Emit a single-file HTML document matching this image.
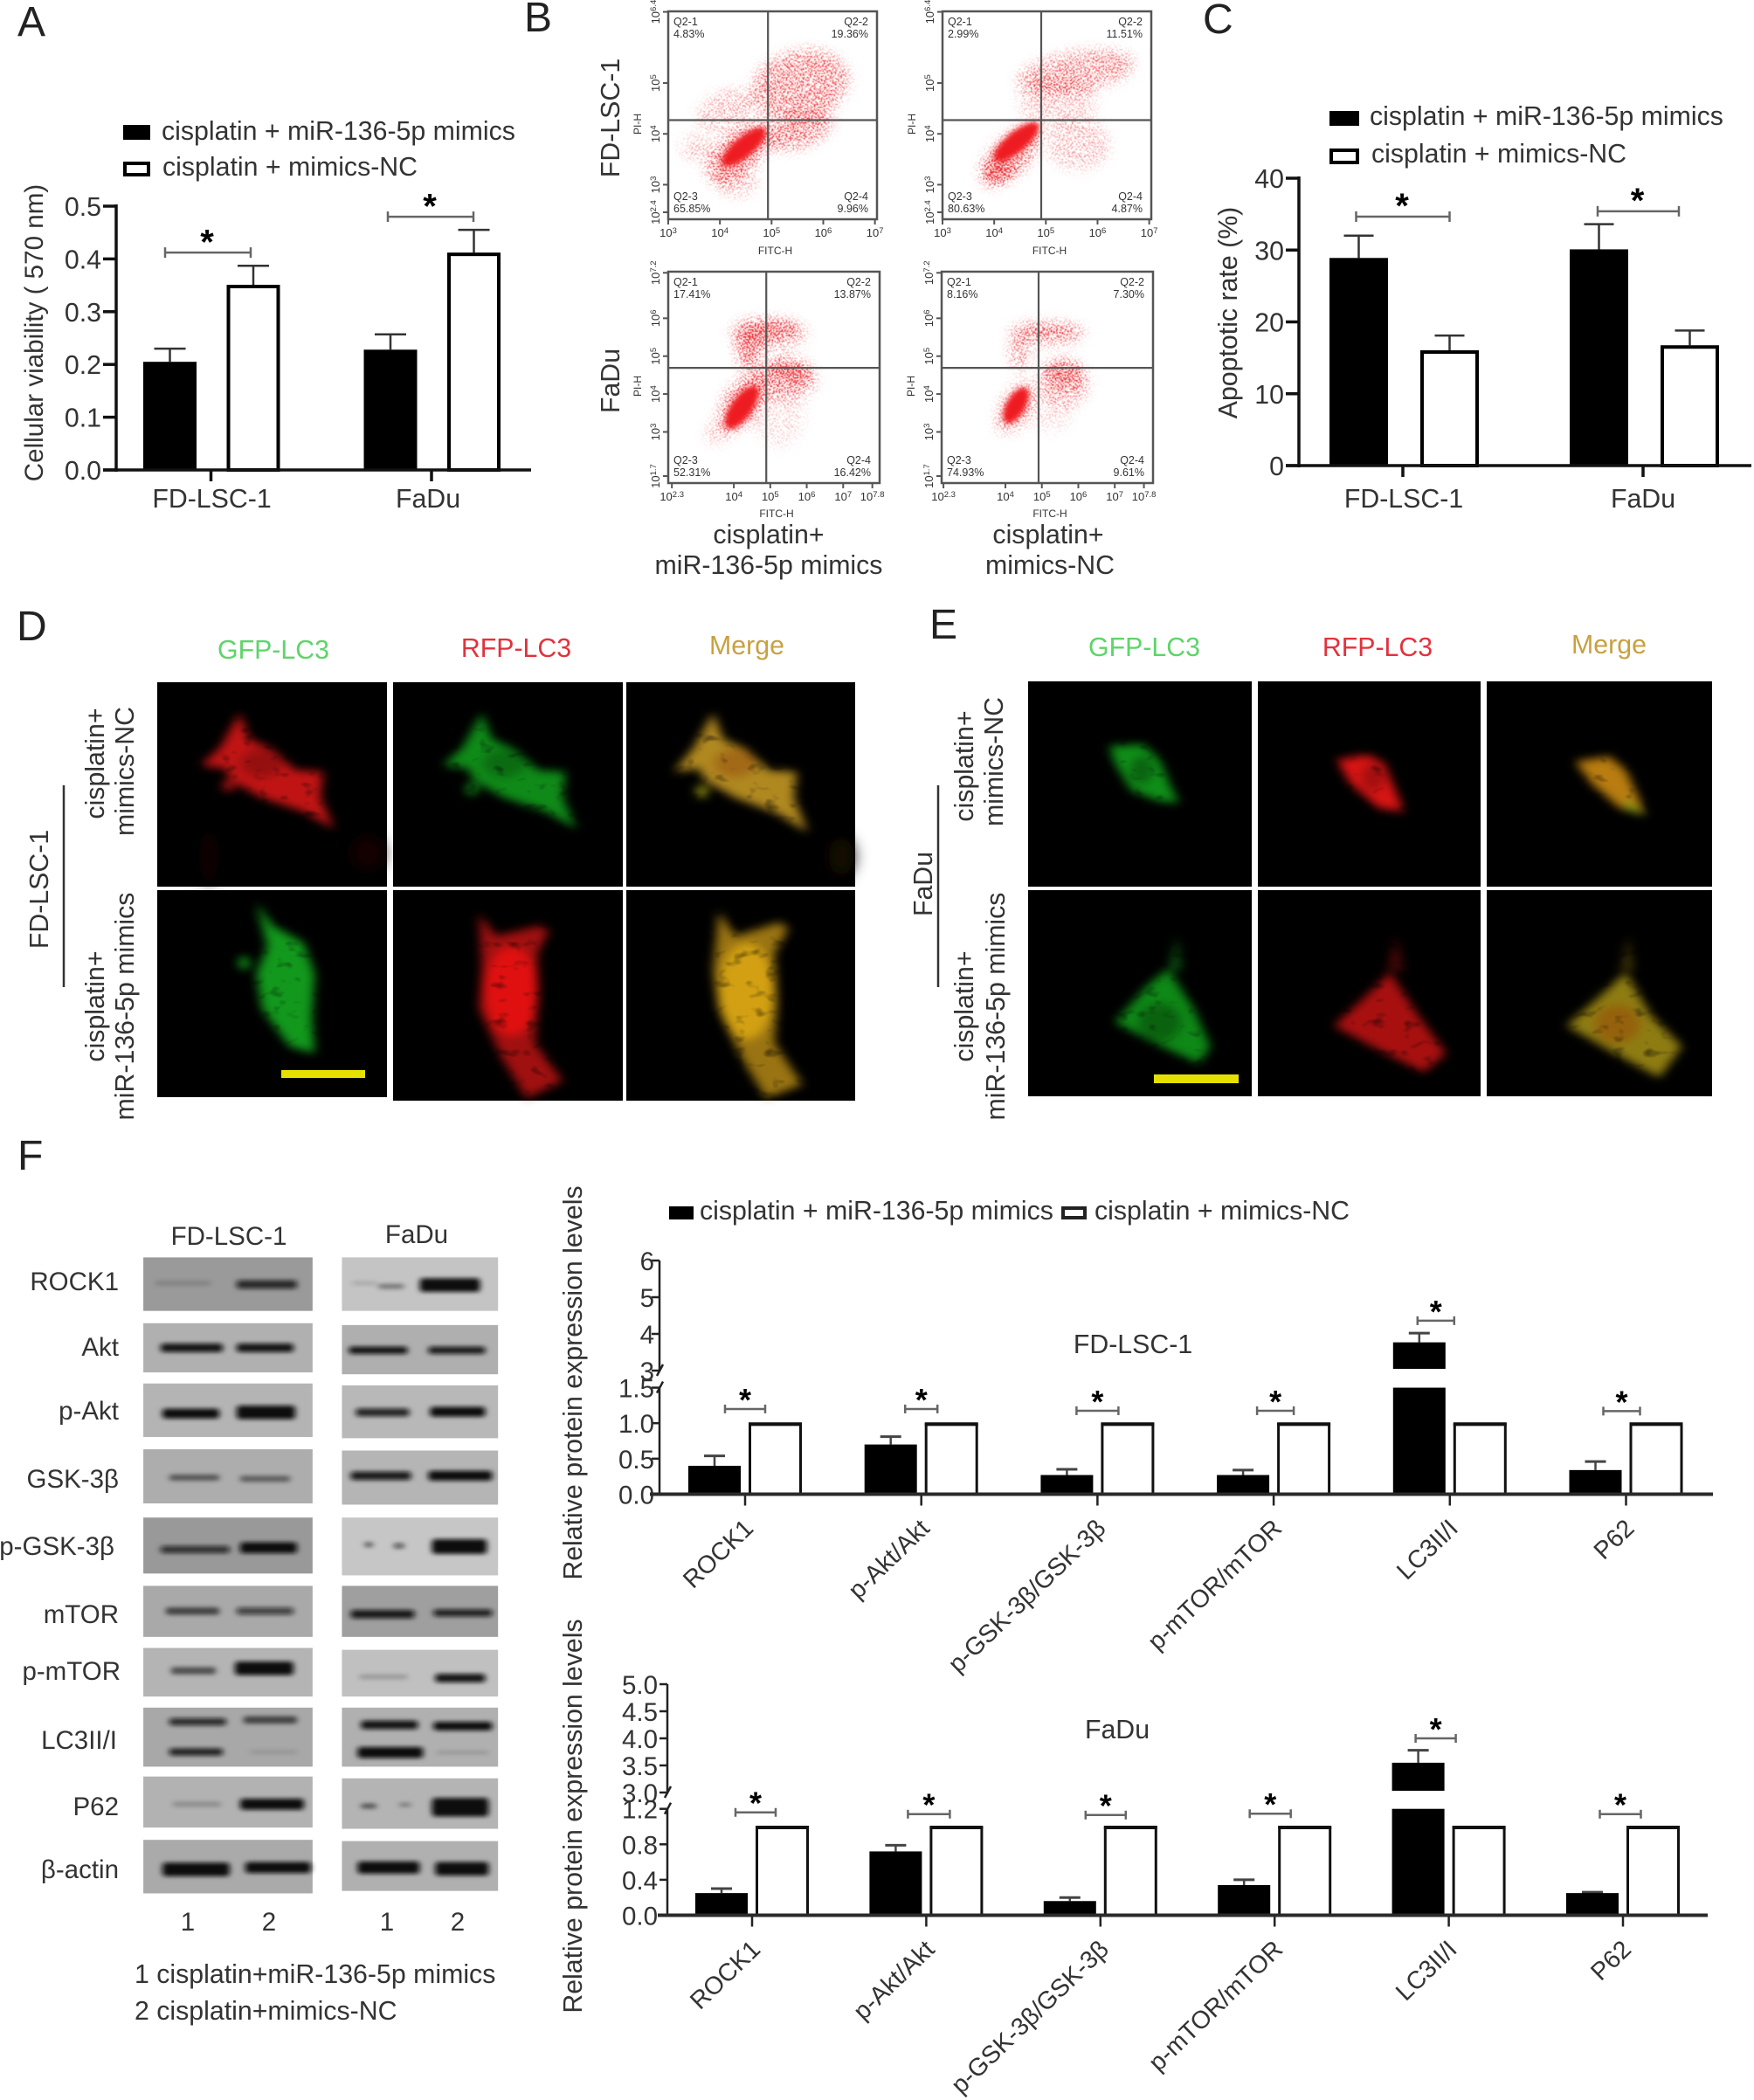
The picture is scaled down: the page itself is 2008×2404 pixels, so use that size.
<!DOCTYPE html>
<html lang="en">
<head>
<meta charset="utf-8">
<title>miR-136-5p cisplatin figure</title>
<style>
html,body{margin:0;padding:0;background:#fff;}
svg{display:block;}
text{font-family:"Liberation Sans",sans-serif;fill:#333;}
.t30{font-size:30.3px;}
.t29{font-size:29.5px;}
.letter{font-size:48px;fill:#222;}
</style>
</head>
<body>
<svg id="figure" xmlns="http://www.w3.org/2000/svg" width="2008" height="2404" viewBox="0 0 2008 2404">
<defs>
<filter id="cellBlur" x="-30%" y="-30%" width="160%" height="160%" color-interpolation-filters="sRGB">
<feGaussianBlur in="SourceGraphic" stdDeviation="9 13" result="soft"/>
<feTurbulence type="fractalNoise" baseFrequency="0.035" numOctaves="2" seed="11" result="noise"/>
<feColorMatrix in="noise" type="matrix" values="0 0 0 0 0  0 0 0 0 0  0 0 0 0 0  1.4 0 0 0 0.42" result="mottle"/>
<feComposite in="soft" in2="mottle" operator="in"/>
</filter>
<filter id="faintBlur" x="-40%" y="-40%" width="180%" height="180%"><feGaussianBlur stdDeviation="14 20"/></filter>
<filter id="bandBlur" x="-20%" y="-20%" width="140%" height="140%"><feGaussianBlur stdDeviation="9 3.5"/></filter>
<filter id="coreBlur" x="-30%" y="-30%" width="160%" height="160%"><feGaussianBlur stdDeviation="3"/></filter>
<filter id="speckle" x="-10%" y="-10%" width="120%" height="120%" color-interpolation-filters="sRGB">
<feGaussianBlur in="SourceAlpha" stdDeviation="7" result="density"/>
<feTurbulence type="fractalNoise" baseFrequency="0.62" numOctaves="1" seed="7" result="noise"/>
<feColorMatrix in="noise" type="matrix" values="0 0 0 0 0  0 0 0 0 0  0 0 0 0 0  5 0 0 0 -2" result="noiseAlpha"/>
<feComposite in="density" in2="noiseAlpha" operator="arithmetic" k1="0" k2="1" k3="1" k4="-1" result="sum"/>
<feComponentTransfer in="sum" result="mask"><feFuncA type="linear" slope="2.2" intercept="0"/></feComponentTransfer>
<feFlood flood-color="#ea1a20" result="red"/>
<feComposite in="red" in2="mask" operator="in"/>
<feGaussianBlur stdDeviation="0.5"/>
</filter>
</defs>

<!-- Panel letters -->
<text class="letter" x="20" y="41">A</text>
<text class="letter" x="600" y="36">B</text>
<text class="letter" x="1377" y="38">C</text>
<text class="letter" x="19" y="733">D</text>
<text class="letter" x="1064" y="731">E</text>
<text class="letter" x="20" y="1339">F</text>

<!-- Panel A -->
<g id="panelA">
<rect x="141" y="143" width="31" height="17" fill="#000"/>
<text class="t30" x="185" y="160">cisplatin + miR-136-5p mimics</text>
<rect x="143" y="187" width="27" height="13" fill="#fff" stroke="#000" stroke-width="4"/>
<text class="t30" x="186" y="201">cisplatin + mimics-NC</text>
<text transform="rotate(-90 49 381)" x="49" y="381" text-anchor="middle" font-size="29.6">Cellular viability ( 570 nm)</text>
</g>

<!-- Panel C -->
<g id="panelC">
<rect x="1522" y="127" width="34" height="17" fill="#000"/>
<text class="t30" x="1568" y="143">cisplatin + miR-136-5p mimics</text>
<rect x="1524" y="172" width="30" height="14" fill="#fff" stroke="#000" stroke-width="4"/>
<text class="t30" x="1570" y="186">cisplatin + mimics-NC</text>
<text class="t30" transform="rotate(-90 1416 358)" x="1416" y="358" text-anchor="middle">Apoptotic rate (%)</text>
</g>

<!-- Panel B -->
<g id="panelB">
<text class="t30" transform="rotate(-90 709 135)" x="709" y="135" text-anchor="middle">FD-LSC-1</text>
<text class="t30" transform="rotate(-90 709 436)" x="709" y="436" text-anchor="middle">FaDu</text>
<text class="t30" x="880" y="622" text-anchor="middle">cisplatin+</text>
<text class="t30" x="880" y="657" text-anchor="middle">miR-136-5p mimics</text>
<text class="t30" x="1200" y="622" text-anchor="middle">cisplatin+</text>
<text class="t30" x="1202" y="657" text-anchor="middle">mimics-NC</text>
</g>

<!-- Panel D -->
<g id="panelD">
<text class="t30" x="313" y="754" text-anchor="middle" style="fill:#5fd46a">GFP-LC3</text>
<text class="t30" x="591" y="752" text-anchor="middle" style="fill:#e2323c">RFP-LC3</text>
<text class="t30" x="855" y="749" text-anchor="middle" style="fill:#c9a040">Merge</text>
<rect x="180" y="781" width="263" height="234" fill="#000"/>
<rect x="450" y="781" width="263" height="234" fill="#000"/>
<rect x="717" y="781" width="262" height="234" fill="#000"/>
<rect x="180" y="1019" width="263" height="237" fill="#000"/>
<rect x="450" y="1019" width="263" height="241" fill="#000"/>
<rect x="717" y="1019" width="262" height="241" fill="#000"/>
<g transform="matrix(0.6378 0 0 0.3954 0 680)">
<g filter="url(#faintBlur)">
<ellipse cx="660" cy="750" rx="28" ry="50" fill="#140202"/>
<ellipse cx="375" cy="760" rx="18" ry="80" fill="#0e0202"/>
<ellipse cx="1510" cy="760" rx="22" ry="55" fill="#161002"/>
</g>
<g filter="url(#cellBlur)">
<polygon points="430,345 448,420 490,450 530,510 580,515 575,590 600,680 545,630 470,590 415,540 405,505 360,497 395,445" fill="#c01414"/>
<ellipse cx="470" cy="490" rx="38" ry="40" fill="#000" opacity="0.22"/>
<ellipse cx="410" cy="555" rx="11" ry="16" fill="#b01212"/>
<polygon points="865,345 883,420 925,450 965,510 1015,515 1010,590 1035,680 980,630 905,590 850,540 840,505 795,497 830,445" fill="#0f8a18"/>
<ellipse cx="905" cy="490" rx="38" ry="40" fill="#000" opacity="0.22"/>
<ellipse cx="847" cy="565" rx="11" ry="16" fill="#128e18"/>
<polygon points="1280,345 1298,420 1340,450 1380,510 1430,515 1425,590 1450,690 1395,635 1320,590 1265,540 1255,505 1210,515 1245,445" fill="#b08820"/>
<ellipse cx="1320" cy="490" rx="38" ry="40" fill="#802000" opacity="0.3"/>
<ellipse cx="1260" cy="572" rx="11" ry="16" fill="#9a9a14"/>
<polygon points="460,895 490,960 545,1010 565,1100 560,1230 565,1330 520,1310 470,1200 460,1100 480,1020" fill="#12981c"/>
<ellipse cx="438" cy="1068" rx="10" ry="18" fill="#12981c"/>
<polygon points="860,925 890,990 970,960 985,975 965,1040 965,1180 960,1300 1010,1410 945,1460 900,1340 860,1200 865,1080" fill="#a01010"/>
<ellipse cx="918" cy="1150" rx="48" ry="130" fill="#e01010"/>
<polygon points="1290,920 1320,990 1400,950 1415,970 1390,1040 1395,1190 1390,1300 1440,1420 1375,1460 1330,1340 1290,1200 1280,1090" fill="#9a7412"/>
<ellipse cx="1340" cy="1150" rx="50" ry="140" fill="#d2a012"/>
</g>
</g>
<rect x="322" y="1225" width="96" height="9" fill="#e6e000"/>
<line x1="73" y1="899" x2="73" y2="1130" stroke="#333" stroke-width="2.5"/>
<text class="t30" transform="rotate(-90 55 1018)" x="55" y="1018" text-anchor="middle">FD-LSC-1</text>
<text class="t30" transform="rotate(-90 119 874)" x="119" y="874" text-anchor="middle">cisplatin+</text>
<text class="t30" transform="rotate(-90 153 883)" x="153" y="883" text-anchor="middle">mimics-NC</text>
<text class="t30" transform="rotate(-90 119 1152)" x="119" y="1152" text-anchor="middle">cisplatin+</text>
<text class="t30" transform="rotate(-90 153 1152)" x="153" y="1152" text-anchor="middle">miR-136-5p mimics</text>
</g>

<!-- Panel E -->
<g id="panelE">
<text class="t30" x="1310" y="751" text-anchor="middle" style="fill:#5fd46a">GFP-LC3</text>
<text class="t30" x="1577" y="751" text-anchor="middle" style="fill:#e2323c">RFP-LC3</text>
<text class="t30" x="1842" y="748" text-anchor="middle" style="fill:#c9a040">Merge</text>
<rect x="1177" y="780" width="256" height="235" fill="#000"/>
<rect x="1440" y="780" width="255" height="235" fill="#000"/>
<rect x="1702" y="780" width="258" height="235" fill="#000"/>
<rect x="1177" y="1019" width="256" height="236" fill="#000"/>
<rect x="1440" y="1019" width="255" height="236" fill="#000"/>
<rect x="1702" y="1019" width="258" height="236" fill="#000"/>
<g transform="matrix(0.6427 0 0 0.3954 1000 680)">
<g filter="url(#cellBlur)">
<polygon points="420,440 480,435 510,480 530,560 545,605 510,600 460,570 430,490" fill="#0f8e18"/>
<ellipse cx="478" cy="510" rx="20" ry="40" fill="#000" opacity="0.3"/>
<polygon points="825,480 880,465 910,490 930,570 945,630 900,620 850,550" fill="#d81414"/>
<ellipse cx="890" cy="530" rx="20" ry="40" fill="#000" opacity="0.25"/>
<polygon points="1250,485 1310,470 1340,510 1360,580 1375,640 1330,620 1280,550" fill="#b87c10"/>
<polygon points="1340,590 1375,640 1340,625" fill="#7c9a14"/>
<polygon points="540,990 525,1090 550,1090" fill="#0a4a10"/>
<polygon points="525,1085 570,1200 600,1310 580,1360 500,1300 430,1240 490,1130" fill="#0e8816"/>
<ellipse cx="510" cy="1240" rx="38" ry="55" fill="#000" opacity="0.28"/>
<polygon points="930,990 915,1090 945,1090" fill="#4a0808"/>
<polygon points="920,1095 970,1220 1020,1330 980,1385 900,1320 820,1250 880,1160" fill="#a81010"/>
<polygon points="1345,990 1330,1090 1355,1090" fill="#3a3006"/>
<polygon points="1340,1095 1385,1220 1440,1310 1400,1400 1320,1330 1235,1250 1290,1170" fill="#8e7c12"/>
<ellipse cx="1325" cy="1245" rx="40" ry="55" fill="#9a4a08" opacity="0.55"/>
</g>
</g>
<rect x="1321" y="1230" width="97" height="10" fill="#e6e000"/>
<line x1="1074" y1="899" x2="1074" y2="1130" stroke="#333" stroke-width="2.5"/>
<text class="t30" transform="rotate(-90 1067 1012)" x="1067" y="1012" text-anchor="middle">FaDu</text>
<text class="t30" transform="rotate(-90 1114 877)" x="1114" y="877" text-anchor="middle">cisplatin+</text>
<text class="t30" transform="rotate(-90 1148 872)" x="1148" y="872" text-anchor="middle">mimics-NC</text>
<text class="t30" transform="rotate(-90 1114 1152)" x="1114" y="1152" text-anchor="middle">cisplatin+</text>
<text class="t30" transform="rotate(-90 1150 1152)" x="1150" y="1152" text-anchor="middle">miR-136-5p mimics</text>
</g>

<!-- Panel F blots -->
<g id="panelFBlots">
<text class="t29" x="262" y="1425" text-anchor="middle">FD-LSC-1</text>
<text class="t29" x="477" y="1423" text-anchor="middle">FaDu</text>
<text class="t29" x="136" y="1477" text-anchor="end">ROCK1</text>
<text class="t29" x="136" y="1552" text-anchor="end">Akt</text>
<text class="t29" x="136" y="1625" text-anchor="end">p-Akt</text>
<text class="t29" x="136" y="1703" text-anchor="end">GSK-3β</text>
<text class="t29" x="131" y="1780" text-anchor="end">p-GSK-3β</text>
<text class="t29" x="136" y="1858" text-anchor="end">mTOR</text>
<text class="t29" x="138" y="1923" text-anchor="end">p-mTOR</text>
<text class="t29" x="134" y="2002" text-anchor="end">LC3II/I</text>
<text class="t29" x="136" y="2078" text-anchor="end">P62</text>
<text class="t29" x="136" y="2150" text-anchor="end">β-actin</text>
<text class="t29" x="215" y="2210" text-anchor="middle">1</text>
<text class="t29" x="308" y="2210" text-anchor="middle">2</text>
<text class="t29" x="443" y="2210" text-anchor="middle">1</text>
<text class="t29" x="524" y="2210" text-anchor="middle">2</text>
<text class="t30" x="154" y="2270">1 cisplatin+miR-136-5p mimics</text>
<text class="t30" x="154" y="2312">2 cisplatin+mimics-NC</text>
</g>

<!-- Panel F charts -->
<g id="panelFCharts">
<rect x="766" y="1381" width="28" height="15" fill="#000"/>
<text class="t30" x="801" y="1396">cisplatin + miR-136-5p mimics</text>
<rect x="1217" y="1383" width="25" height="11" fill="#fff" stroke="#222" stroke-width="4"/>
<text class="t30" x="1253" y="1396">cisplatin + mimics-NC</text>
<text class="t30" x="1297" y="1549" text-anchor="middle">FD-LSC-1</text>
<text class="t30" x="1279" y="1990" text-anchor="middle">FaDu</text>
<text class="t30" transform="rotate(-90 666 1583)" x="666" y="1583" text-anchor="middle">Relative protein expression levels</text>
<text class="t30" transform="rotate(-90 666 2079)" x="666" y="2079" text-anchor="middle">Relative protein expression levels</text>
</g>
</svg>

<script>
// ---------- Panel A data ----------
const viabilityCategories = ['FD-LSC-1', 'FaDu'];
const viabilityMimics = [0.205, 0.228];
const viabilityMimicsErr = [0.025, 0.029];
const viabilityNC = [0.351, 0.412];
const viabilityNCErr = [0.036, 0.043];
const viabilityTicks = [0, 0.1, 0.2, 0.3, 0.4, 0.5];
const viabilityBracket = [0.412, 0.48];

// ---------- Panel C data ----------
const apoptosisCategories = ['FD-LSC-1', 'FaDu'];
const apoptosisMimics = [28.9, 30.1];
const apoptosisMimicsErr = [3.1, 3.5];
const apoptosisNC = [16.05, 16.75];
const apoptosisNCErr = [2.05, 2.05];
const apoptosisTicks = [0, 10, 20, 30, 40];
const apoptosisBracket = [34.65, 35.4];

// ---------- Panel F data ----------
const proteinCategories = ['ROCK1', 'p-Akt/Akt', 'p-GSK-3β/GSK-3β', 'p-mTOR/mTOR', 'LC3II/I', 'P62'];
const fdMimics = [0.40, 0.70, 0.27, 0.27, 3.77, 0.34];
const fdMimicsErr = [0.14, 0.11, 0.08, 0.07, 0.25, 0.12];
const fdNC = [1, 1, 1, 1, 1, 1];
const fdTicksLow = [0, 0.5, 1, 1.5];
const fdTicksHigh = [3, 4, 5, 6];
const fdBracket = [1.2, 1.2, 1.175, 1.175, 4.36, 1.17];
const faMimics = [0.25, 0.72, 0.16, 0.34, 3.55, 0.25];
const faMimicsErr = [0.05, 0.07, 0.04, 0.06, 0.23, 0.01];
const faNC = [1, 1, 1, 1, 1, 1];
const faTicksLow = [0, 0.4, 0.8, 1.2];
const faTicksHigh = [3, 3.5, 4, 4.5, 5];
const faBracket = [1.16, 1.14, 1.13, 1.145, 4.0, 1.14];

// ---------- Panel B data: density clouds ----------
// each cloud: log10 FITC, log10 PI, spread X, spread Y (decades), tilt degrees, density (1 = solid core)
const cloudsFdMimics = [[4.38,3.65,0.79,0.40,-40,0.5],[5.55,4.95,0.97,0.70,-15,0.42],[5.55,4.06,0.69,0.33,-20,0.44],[4.10,4.47,0.59,0.37,-25,0.26],[3.55,3.73,0.34,0.26,0,0.22],[4.31,3.06,0.41,0.30,0,0.26],[4.46,3.74,0.54,0.20,-40,1]];
const cloudsFdNc = [[4.32,3.58,0.76,0.37,-45,0.5],[5.57,5.21,1.17,0.41,-10,0.38],[5.22,4.61,0.76,0.45,0,0.22],[5.63,3.80,0.62,0.52,0,0.24],[4.08,3.28,0.28,0.22,-45,0.7],[4.43,3.84,0.55,0.20,-40,1]];
const cloudsFaMimics = [[4.26,3.80,0.95,0.50,-55,0.48],[4.95,5.60,1.10,0.45,0,0.3],[5.44,4.40,0.85,0.60,0,0.32],[3.58,3.00,0.40,0.30,-30,0.24],[5.25,3.40,0.70,0.80,0,0.14],[4.95,5.68,0.80,0.20,0,0.66],[4.41,5.20,0.35,0.55,0,0.54],[5.54,4.55,0.60,0.28,15,0.64],[4.22,3.65,0.70,0.28,-55,1]];
const cloudsFaNc = [[4.29,3.65,0.80,0.40,-60,0.42],[5.13,5.60,1.10,0.35,0,0.24],[5.62,4.30,0.70,0.65,0,0.3],[5.23,3.50,0.60,0.50,0,0.14],[5.23,5.65,0.90,0.15,0,0.5],[4.39,5.10,0.30,0.50,0,0.36],[5.57,4.50,0.55,0.35,10,0.5],[4.29,3.70,0.55,0.25,-60,1]];
const gateFdMimics = [4.93, 4.27];
const gateFdNc = [4.91, 4.27];
const gateFaMimics = [4.89, 4.69];
const gateFaNc = [4.91, 4.69];
const quadFdMimics = ['4.83%', '19.36%', '65.85%', '9.96%'];
const quadFdNc = ['2.99%', '11.51%', '80.63%', '4.87%'];
const quadFaMimics = ['17.41%', '13.87%', '52.31%', '16.42%'];
const quadFaNc = ['8.16%', '7.30%', '74.93%', '9.61%'];
const flowTicksFdX = [3, 4, 5, 6, 7];
const flowTicksFdY = [2.4, 3, 4, 5, 6.4];
const flowTicksFaX = [2.3, 4, 5, 6, 7, 7.8];
const flowTicksFaY = [1.7, 3, 4, 5, 6, 7.2];

// ---------- Blot band estimates ----------
const blotRowsLeft = [[198,285,'#9a9a9a'],[305,385,'#b0b0b0'],[403,490,'#b4b4b4'],[510,598,'#adadad'],[621,712,'#999999'],[732,815,'#a9a9a9'],[833,912,'#b4b4b4'],[930,1026,'#a8a8a8'],[1042,1125,'#b2b2b2'],[1145,1232,'#aaaaaa']];
const blotRowsRight = [[198,285,'#c4c4c4'],[308,388,'#afafaf'],[406,492,'#b8b8b8'],[512,600,'#b5b5b5'],[621,715,'#c6c6c6'],[732,815,'#9f9f9f'],[836,912,'#c0c0c0'],[930,1026,'#b0b0b0'],[1045,1127,'#b4b4b4'],[1147,1228,'#b0b0b0']];
const bandsLeft = [[450,610,240,8,0.15],[685,860,242,14,0.8],[465,645,345,14,0.95],[685,850,345,14,0.95],[470,635,452,16,1],[685,855,450,22,1],[490,635,556,10,0.5],[695,840,558,10,0.45],[465,665,673,12,0.75],[695,860,670,18,1],[480,635,773,12,0.6],[685,850,773,12,0.65],[495,625,870,12,0.55],[680,850,866,22,1],[490,655,953,12,0.8],[705,860,950,12,0.6],[490,645,1002,12,0.85],[725,860,1002,6,0.12],[500,640,1087,8,0.22],[695,880,1087,18,1],[470,665,1193,22,1],[710,900,1190,18,1]];
const bandsRight = [[1020,1090,240,6,0.15],[1095,1170,245,8,0.4],[1215,1390,243,22,1],[1010,1180,349,12,0.95],[1240,1405,349,12,0.9],[1030,1185,450,13,0.85],[1245,1405,449,16,1],[1015,1190,553,14,0.9],[1240,1425,553,16,1],[1055,1080,665,8,0.55],[1140,1170,667,8,0.65],[1250,1410,668,24,1],[1015,1200,778,14,0.9],[1255,1425,776,12,0.85],[1040,1180,880,8,0.2],[1260,1405,882,14,0.95],[1045,1210,958,14,0.95],[1255,1425,960,14,1],[1035,1225,1003,18,1],[1265,1415,1003,6,0.15],[1045,1090,1090,8,0.55],[1155,1190,1088,6,0.35],[1250,1415,1092,30,1],[1035,1215,1190,20,1],[1260,1415,1192,22,1]];

const NS = 'http://www.w3.org/2000/svg';
function mk(tag, parent, attrs) {
  const e = document.createElementNS(NS, tag);
  for (const k in attrs) e.setAttribute(k, attrs[k]);
  parent.appendChild(e);
  return e;
}
function strokeLine(parent, x1, y1, x2, y2, color, width) {
  return mk('line', parent, {x1: x1, y1: y1, x2: x2, y2: y2, stroke: color, 'stroke-width': width});
}

function drawBracket(parent, xa, xb, y, starX, starY, capH, starSize) {
  const h = strokeLine(parent, xa, y, xb, y, '#666', 2.5);
  
  
  const c1 = strokeLine(parent, xa, y - capH, xa, y + capH, '#666', 2.5);
  
  
  const c2 = strokeLine(parent, xb, y - capH, xb, y + capH, '#666', 2.5);
  
  
  const s = mk('text', parent, {x: starX, y: starY + starSize * 0.58, 'text-anchor': 'middle', 'font-size': starSize, 'font-weight': 'bold', style: 'fill:#000'});
  s.textContent = '*';
  
  
}

function drawGrouped(cfg) {
  const g = document.getElementById(cfg.id);
  const yOf = v => cfg.y0 - v * cfg.ky;
  const xOf = i => cfg.x0 + i * cfg.dx;
  cfg.ticks.forEach(t => {
    const tick = strokeLine(g, cfg.axisX - 15, yOf(t), cfg.axisX, yOf(t), '#111', 3.5);
    
    
    const lab = mk('text', g, {x: cfg.axisX - 17, y: yOf(t) + 11, 'text-anchor': 'end', class: 't30'});
    lab.textContent = t.toFixed(cfg.decimals);
    
    
  });
  cfg.categories.forEach((c, i) => {
    const cx = xOf(i);
    const bx = cx + cfg.blackOff;
    const wx = cx + cfg.whiteOff;
    const errB = strokeLine(g, bx + cfg.barW / 2, yOf(cfg.mimics[i] + cfg.mimicsErr[i]), bx + cfg.barW / 2, yOf(cfg.mimics[i]), '#333', 2.5);
    
    
    const capB = strokeLine(g, bx + cfg.barW / 2 - cfg.cap, yOf(cfg.mimics[i] + cfg.mimicsErr[i]), bx + cfg.barW / 2 + cfg.cap, yOf(cfg.mimics[i] + cfg.mimicsErr[i]), '#333', 2.5);
    
    
    const errW = strokeLine(g, wx + cfg.barW / 2, yOf(cfg.nc[i] + cfg.ncErr[i]), wx + cfg.barW / 2, yOf(cfg.nc[i]), '#333', 2.5);
    
    
    const capW = strokeLine(g, wx + cfg.barW / 2 - cfg.cap, yOf(cfg.nc[i] + cfg.ncErr[i]), wx + cfg.barW / 2 + cfg.cap, yOf(cfg.nc[i] + cfg.ncErr[i]), '#333', 2.5);
    
    
    const barB = mk('rect', g, {x: bx, y: yOf(cfg.mimics[i]), width: cfg.barW, height: cfg.y0 - yOf(cfg.mimics[i]), fill: '#000'});
    
    
    const barW = mk('rect', g, {x: wx + 2, y: yOf(cfg.nc[i]) + 2, width: cfg.barW - 4, height: cfg.y0 - yOf(cfg.nc[i]) - 2, fill: '#fff', stroke: '#000', 'stroke-width': 4});
    
    
    const xt = strokeLine(g, cx, cfg.y0, cx, cfg.y0 + 13, '#111', 3.5);
    
    
    const xl = mk('text', g, {x: cx + cfg.labelShift[i], y: 581, 'text-anchor': 'middle', class: 't30'});
    xl.textContent = c;
    
    
    const by = yOf(cfg.bracket[i]);
    const mid = cx + cfg.sigShift[i];
    drawBracket(g, mid - cfg.sigHalf[i], mid + cfg.sigHalf[i], by, mid - 1, by - 22, 6, 40);
  });
  const ya = strokeLine(g, cfg.axisX, yOf(cfg.ticks[cfg.ticks.length - 1]) - 2, cfg.axisX, cfg.y0 + 2, '#111', 3.5);
  
  
  const xa = strokeLine(g, cfg.axisX - 15, cfg.y0, cfg.xEnd, cfg.y0, '#111', 3.5);
  
  
}

drawGrouped({id: 'panelA', categories: viabilityCategories, mimics: viabilityMimics, mimicsErr: viabilityMimicsErr, nc: viabilityNC, ncErr: viabilityNCErr, ticks: viabilityTicks, bracket: viabilityBracket, decimals: 1, y0: 538, ky: 604, x0: 241.5, dx: 252.5, blackOff: -77.5, whiteOff: 18, barW: 61, cap: 18, axisX: 133, xEnd: 608, labelShift: [1, -4], sigShift: [-3.5, -1], sigHalf: [49, 49]});
drawGrouped({id: 'panelC', categories: apoptosisCategories, mimics: apoptosisMimics, mimicsErr: apoptosisMimicsErr, nc: apoptosisNC, ncErr: apoptosisNCErr, ticks: apoptosisTicks, bracket: apoptosisBracket, decimals: 0, y0: 533, ky: 8.225, x0: 1606, dx: 275, blackOff: -84, whiteOff: 20, barW: 67, cap: 17, axisX: 1487, xEnd: 2005, labelShift: [1, 0], sigShift: [0, -5.5], sigHalf: [53.5, 46.5]});

function drawBroken(cfg) {
  const g = document.getElementById('panelFCharts');
  const yOf = v => v <= cfg.lowMax ? cfg.y0 - v * cfg.kLow : cfg.yHighBase - (v - cfg.highMin) * cfg.kHigh;
  const yLowTop = yOf(cfg.lowMax);
  cfg.ticksLow.concat(cfg.ticksHigh).forEach((t, i) => {
    const tick = strokeLine(g, cfg.axisX - 9, yOf(t), cfg.axisX, yOf(t), '#222', 2.5);
    
    
    const lab = mk('text', g, {x: cfg.axisX - cfg.labelGap, y: yOf(t) + 11, 'text-anchor': 'end', class: 't29'});
    lab.textContent = i < cfg.ticksLow.length || cfg.highDecimals ? t.toFixed(1) : t.toFixed(0);
    
    
  });
  cfg.categories.forEach((c, i) => {
    const cx = cfg.x0 + i * cfg.dx;
    const bx = cx - 65;
    const wx = cx + 4;
    const v = cfg.mimics[i];
    const vTop = v + cfg.mimicsErr[i];
    const centerB = bx + 30;
    const err = strokeLine(g, centerB, yOf(vTop), centerB, yOf(v), '#444', 2.5);
    
    
    const cap = strokeLine(g, centerB - 12, yOf(vTop), centerB + 12, yOf(vTop), '#444', 3);
    
    
    if (v > cfg.lowMax) {
      const lower = mk('rect', g, {x: bx, y: yLowTop, width: 60, height: cfg.y0 - yLowTop, fill: '#000'});
      
      
      const upper = mk('rect', g, {x: bx, y: yOf(v), width: 60, height: cfg.yHighBase - 2 - yOf(v), fill: '#000'});
      
      
    } else {
      const bar = mk('rect', g, {x: bx, y: yOf(v), width: 60, height: cfg.y0 - yOf(v), fill: '#000'});
      
      
    }
    const white = mk('rect', g, {x: wx + 1.5, y: yOf(cfg.nc[i]) + 1.5, width: 58, height: cfg.y0 - yOf(cfg.nc[i]) - 1.5, fill: '#fff', stroke: '#111', 'stroke-width': 3});
    
    
    const top = strokeLine(g, wx, yOf(cfg.nc[i]) + 1, wx + 61, yOf(cfg.nc[i]) + 1, '#111', 4);
    
    
    const xt = strokeLine(g, cx, cfg.y0, cx, cfg.y0 + 13, '#222', 2.5);
    
    
    const ax = cx + 11;
    const ay = cfg.y0 + 41;
    const xl = mk('text', g, {x: ax, y: ay, 'text-anchor': 'end', 'font-size': 28.5, transform: 'rotate(-44 ' + ax + ' ' + ay + ')'});
    xl.textContent = c;
    
    
    const by = yOf(cfg.bracket[i]);
    const mid = cx + cfg.sigShift[i];
    drawBracket(g, mid - cfg.sigHalf[i], mid + cfg.sigHalf[i], by, mid, by - 19, 5, 36);
  });
  const ax1 = strokeLine(g, cfg.axisX, yOf(cfg.ticksLow[cfg.ticksLow.length - 1]), cfg.axisX, cfg.y0, '#222', 2.5);
  
  
  const ax2 = strokeLine(g, cfg.axisX, yOf(cfg.ticksHigh[cfg.ticksHigh.length - 1]), cfg.axisX, cfg.yHighBase, '#222', 2.5);
  
  
  const br1 = strokeLine(g, cfg.axisX - 3, cfg.yHighBase + 6, cfg.axisX + 4, cfg.yHighBase - 7, '#222', 2.5);
  
  
  const br2 = strokeLine(g, cfg.axisX - 3, yLowTop + 6, cfg.axisX + 4, yLowTop - 7, '#222', 2.5);
  
  
  const xa = strokeLine(g, cfg.xStart, cfg.y0, cfg.xEnd, cfg.y0, '#2a2a2a', 4);
  
  
}

drawBroken({categories: proteinCategories, mimics: fdMimics, mimicsErr: fdMimicsErr, nc: fdNC, ticksLow: fdTicksLow, ticksHigh: fdTicksHigh, bracket: fdBracket, lowMax: 1.5, highMin: 3, y0: 1710.5, kLow: 81.3, yHighBase: 1569, kHigh: 42, axisX: 755, labelGap: 6, x0: 853, dx: 201.7, xStart: 744, xEnd: 1961, highDecimals: false, sigShift: [0, 0, 0, 2, -16, -5], sigHalf: [23, 18.5, 24, 21, 21, 21]});
drawBroken({categories: proteinCategories, mimics: faMimics, mimicsErr: faMimicsErr, nc: faNC, ticksLow: faTicksLow, ticksHigh: faTicksHigh, bracket: faBracket, lowMax: 1.2, highMin: 3, y0: 2192.5, kLow: 101.5, yHighBase: 2052, kHigh: 62, axisX: 764, labelGap: 11, x0: 861, dx: 199.4, xStart: 753, xEnd: 1955, highDecimals: true, sigShift: [4, 3, 6, -5, -15, -3], sigHalf: [23, 24, 23, 23.5, 23, 23.5]});

// ---------- Panel B drawing ----------
function drawFlow(cfg) {
  const root = document.getElementById('panelB');
  const g = mk('g', root, {});
  
  
  const xOf = l => cfg.left + (l - cfg.xDom[0]) / (cfg.xDom[1] - cfg.xDom[0]) * (cfg.right - cfg.left);
  const yOf = l => cfg.bottom - (l - cfg.yDom[0]) / (cfg.yDom[1] - cfg.yDom[0]) * (cfg.bottom - cfg.top);
  const pxX = (cfg.right - cfg.left) / (cfg.xDom[1] - cfg.xDom[0]);
  const pxY = (cfg.bottom - cfg.top) / (cfg.yDom[1] - cfg.yDom[0]);
  const clipId = 'clip-' + cfg.key;
  const defs = mk('clipPath', g, {id: clipId});
  mk('rect', defs, {x: cfg.left, y: cfg.top, width: cfg.right - cfg.left, height: cfg.bottom - cfg.top});
  const clip = mk('g', g, {'clip-path': 'url(#' + clipId + ')'});
  const cloudLayer = mk('g', clip, {filter: 'url(#speckle)'});
  mk('rect', cloudLayer, {x: cfg.left, y: cfg.top, width: cfg.right - cfg.left, height: cfg.bottom - cfg.top, fill: '#fff', opacity: 0.001});
  const coreLayer = mk('g', clip, {filter: 'url(#coreBlur)'});
  cfg.clouds.forEach(c => {
    const cx = xOf(c[0]);
    const cy = yOf(c[1]);
    const isCore = c[5] >= 1;
    const cloud = mk('ellipse', isCore ? coreLayer : cloudLayer, {cx: cx, cy: cy, rx: c[2] * pxX, ry: c[3] * pxY, fill: isCore ? '#ee1a20' : '#000', opacity: c[5], transform: 'rotate(' + c[4] + ' ' + cx + ' ' + cy + ')'});
    
    
  });
  const box = mk('rect', g, {x: cfg.left, y: cfg.top, width: cfg.right - cfg.left, height: cfg.bottom - cfg.top, fill: 'none', stroke: '#555', 'stroke-width': 2.5});
  
  
  const gv = strokeLine(g, xOf(cfg.gate[0]), cfg.top, xOf(cfg.gate[0]), cfg.bottom, '#555', 2.2);
  
  
  const gh = strokeLine(g, cfg.left, yOf(cfg.gate[1]), cfg.right, yOf(cfg.gate[1]), '#555', 2.2);
  
  
  const qNames = ['Q2-1', 'Q2-2', 'Q2-3', 'Q2-4'];
  cfg.quad.forEach((q, i) => {
    const isRight = i % 2 === 1;
    const tx = isRight ? cfg.right - 10 : cfg.left + 6;
    const ty = i < 2 ? cfg.top + 16 : cfg.bottom - 22;
    const anchor = isRight ? 'end' : 'start';
    const t1 = mk('text', g, {x: tx, y: ty, 'text-anchor': anchor, 'font-size': 12.5});
    t1.textContent = qNames[i];
    
    
    const t2 = mk('text', g, {x: tx, y: ty + 14, 'text-anchor': anchor, 'font-size': 12.5});
    t2.textContent = q;
    
    
  });
  cfg.xTicks.forEach(t => {
    const mark = strokeLine(g, xOf(t), cfg.bottom, xOf(t), cfg.bottom + 6, '#555', 2);
    
    
    const lab = mk('text', g, {x: xOf(t), y: cfg.bottom + 20, 'text-anchor': 'middle', 'font-size': 13});
    lab.textContent = '10';
    
    
    const sup = mk('tspan', lab, {dy: -4, 'font-size': 9.5});
    sup.textContent = String(t);
  });
  cfg.yTicks.forEach(t => {
    const py = Math.min(yOf(t), cfg.bottom - 8);
    const mark = strokeLine(g, cfg.left - 6, py, cfg.left, py, '#555', 2);
    
    
    const bx = cfg.left - 10;
    const lab = mk('text', g, {x: bx, y: py, 'text-anchor': 'middle', 'font-size': 13, transform: 'rotate(-90 ' + bx + ' ' + py + ')'});
    lab.textContent = '10';
    
    
    const sup = mk('tspan', lab, {dy: -4, 'font-size': 9.5});
    sup.textContent = String(t);
  });
  const xt = mk('text', g, {x: (cfg.left + cfg.right) / 2 + 3, y: cfg.bottom + cfg.titleGap, 'text-anchor': 'middle', 'font-size': 12});
  xt.textContent = 'FITC-H';
  
  
  const yx = cfg.left - 31;
  const yy = (cfg.top + cfg.bottom) / 2 + 10;
  const yt = mk('text', g, {x: yx, y: yy, 'text-anchor': 'middle', 'font-size': 12, transform: 'rotate(-90 ' + yx + ' ' + yy + ')'});
  yt.textContent = 'PI-H';
  
  
}

drawFlow({key: 'fd-mimics', clouds: cloudsFdMimics, gate: gateFdMimics, quad: quadFdMimics, xTicks: flowTicksFdX, yTicks: flowTicksFdY, left: 765, right: 1004, top: 13, bottom: 251, xDom: [3, 7.04], yDom: [2.32, 6.41], titleGap: 40});
drawFlow({key: 'fd-nc', clouds: cloudsFdNc, gate: gateFdNc, quad: quadFdNc, xTicks: flowTicksFdX, yTicks: flowTicksFdY, left: 1079, right: 1318, top: 13, bottom: 251, xDom: [3, 7.04], yDom: [2.32, 6.41], titleGap: 40});
drawFlow({key: 'fa-mimics', clouds: cloudsFaMimics, gate: gateFaMimics, quad: quadFaMimics, xTicks: flowTicksFaX, yTicks: flowTicksFaY, left: 765, right: 1007, top: 311, bottom: 553, xDom: [2.2, 8.0], yDom: [1.65, 7.23], titleGap: 39});
drawFlow({key: 'fa-nc', clouds: cloudsFaNc, gate: gateFaNc, quad: quadFaNc, xTicks: flowTicksFaX, yTicks: flowTicksFaY, left: 1078, right: 1320, top: 311, bottom: 553, xDom: [2.25, 8.05], yDom: [1.65, 7.23], titleGap: 39});

// ---------- Blots ----------
function drawBlot(rows, bands, x1, x2) {
  const root = document.getElementById('panelFBlots');
  const g = mk('g', root, {transform: 'matrix(0.3954 0 0 0.7041 0 1300)'});
  
  
  rows.forEach(r => {
    const bg = mk('rect', g, {x: x1, y: r[0], width: x2 - x1, height: r[1] - r[0], fill: r[2]});
    
    
  });
  const layer = mk('g', g, {filter: 'url(#bandBlur)'});
  bands.forEach(b => {
    const band = mk('rect', layer, {x: b[0], y: b[2] - b[3] / 2, width: b[1] - b[0], height: b[3], rx: 6, ry: b[3] / 2, fill: '#0a0a0a', opacity: b[4]});
    
    
  });
}
drawBlot(blotRowsLeft, bandsLeft, 415, 905);
drawBlot(blotRowsRight, bandsRight, 990, 1442);
</script>
</body>
</html>
